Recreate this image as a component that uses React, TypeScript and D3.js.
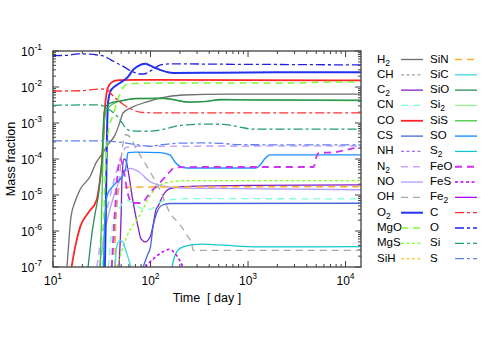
import * as d3 from 'd3';

// [time (day), mass fraction]; species that never
// reach 1e-7 inside the plotted range are left empty
const H2 = [[13.9,1e-7],[14.6,6e-7],[15.3,2.5e-6],[17,7e-6],[18.9,1.4e-5],[23.9,3.2e-5],[27.6,7.8e-5],[32.6,1.5e-4],[36.6,2.5e-4],[43.2,4.6e-4],[48.6,1.07e-3],[52.2,1.9e-3],[66,2.8e-3],[90,3.8e-3],[125,4.9e-3],[215,6e-3],[600,6.3e-3],[14400,6.3e-3]];
const CH: number[][] = [];
const C2 = [[47.5,1e-7],[50,3e-6],[51,3e-5],[53.5,1e-4],[56,9e-5],[58.7,5e-5],[66,6.9e-6],[74.5,1.3e-6],[80,6e-7],[88,5e-7],[100,7.3e-7],[106,1.4e-6],[114,4e-6],[120,5e-6],[135,1e-5],[158,1.5e-5],[215,1.7e-5],[1000,1.85e-5],[14400,1.9e-5]];
const CN = [[37,1e-7],[39,5e-7],[41,1.7e-6],[44,3e-6],[48.6,4.6e-6],[56,7.3e-6],[66,6e-6],[78,4.4e-6],[100,4e-6],[125,6.3e-6],[158,7.3e-6],[250,7.9e-6],[14400,7.8e-6]];
const CO = [[15.5,1e-7],[17,4e-7],[19,1.3e-6],[23,3.2e-6],[28,7.3e-6],[30.3,2.6e-5],[31.8,9.3e-5],[33,5e-4],[34,2.5e-3],[35.5,7e-3],[38,0.0118],[42,0.0145],[48,0.0156],[100,0.0157],[1000,0.0155],[14400,0.0152]];
const CS = [[84,1e-7],[92,2e-7],[100,3.7e-7],[106,1.3e-6],[116,3.2e-6],[131,5.2e-6],[158,5.8e-6],[14400,5.9e-6]];
const NH: number[][] = [];
const N2 = [[28.2,1e-7],[32.6,1.3e-6],[38.4,8.8e-6],[43.2,3.2e-5],[48.6,9.3e-5],[56,2.1e-4],[78,2.25e-4],[14400,2.3e-4]];
const NO = [[30,1e-7],[34,1e-6],[40,6e-6],[47,2.2e-5],[54,4.5e-5],[62,5.5e-5],[75,4.5e-5],[100,2.3e-5],[147,1.7e-5],[220,1.55e-5],[14400,1.4e-5]];
const OH = [[40,1e-7],[44,2e-6],[48,3e-5],[52,2.5e-4],[56,4.8e-4],[63,3.8e-4],[71,2e-4],[84,9.3e-5],[106,3.2e-5],[125,1.4e-5],[158,3.2e-6],[200,1.5e-6],[242,6.9e-7],[265,4.5e-7],[273,2.9e-7],[14400,2.9e-7]];
const O2 = [[34,1e-7],[34.6,1e-6],[35.2,3e-5],[35.8,5e-4],[36.6,3.5e-3],[39.4,8.3e-3],[48.6,0.0129],[58.7,0.019],[66,0.0296],[74.5,0.038],[88,0.044],[106,0.036],[125,0.03],[170,0.0245],[500,0.025],[2000,0.0256],[14400,0.0256]];
const MgO = [[32.5,1e-7],[33.5,5e-6],[35,1e-4],[37,6e-4],[41,1.6e-3],[46,4.3e-3],[52,9.4e-3],[59,0.0122],[80,0.0128],[3000,0.0129],[6000,0.0136],[14400,0.0138]];
const MgS = [[45,1e-7],[50,2.5e-7],[57,6.9e-7],[78,2.8e-6],[100,1e-5],[125,1.9e-5],[160,2.3e-5],[237,2.5e-5],[14400,2.5e-5]];
const SiH: number[][] = [];
const SiN = [[43,1e-7],[43.8,1e-6],[44.5,6e-6],[46,1.3e-5],[50,1.55e-5],[60,1.65e-5],[14400,1.7e-5]];
const SiC = [[43.5,1e-7],[44.5,3e-7],[46,4.5e-7],[49,5.5e-7],[52,5e-7],[55,3.3e-7],[59,1.8e-7],[63,1e-7]];
const SiO = [[22.9,1e-7],[25,8e-7],[27,3e-6],[29,8.8e-6],[30.5,3e-5],[31.8,9.3e-5],[32.6,6e-4],[33.5,2e-3],[35,3e-3],[40,3.7e-3],[49,4.1e-3],[70,4.8e-3],[135,4.9e-3],[250,3.8e-3],[380,4e-3],[520,4.5e-3],[1000,4.4e-3],[14400,4.3e-3]];
const Si2: number[][] = [];
const SiS = [[30.5,1e-7],[31.5,3e-6],[32.5,1e-4],[33.5,1e-3],[35,2.2e-3],[38,2.9e-3],[45,3.8e-3],[70,4.7e-3],[135,4.8e-3],[250,3.8e-3],[380,4e-3],[520,4.4e-3],[14400,4.2e-3]];
const SO = [[33,1e-7],[34,2e-6],[36,1e-5],[43,2e-5],[52,3.5e-5],[56,6e-5],[58.7,1.5e-4],[70,1.55e-4],[125,1.5e-4],[158,1.3e-4],[180,8e-5],[201,6.2e-5],[237,5.6e-5],[1200,5.6e-5],[1330,6.8e-5],[1500,1.05e-4],[1680,1.3e-4],[14400,1.3e-4]];
const S2 = [[166,1e-7],[175,1.8e-7],[187,2.7e-7],[215,3.6e-7],[320,4.3e-7],[500,4.1e-7],[1300,3.6e-7],[14400,3.7e-7]];
const FeO = [[40,1e-7],[43,3e-6],[46,4e-5],[49,1e-4],[53,5e-5],[58,1.2e-5],[65,6e-6],[80,6e-6],[100,1.2e-5],[125,2.2e-5],[150,3.8e-5],[178,5.8e-5],[300,6e-5],[4700,6e-5],[5000,1.1e-4],[5300,1.45e-4],[7800,1.55e-4],[12500,2e-4],[14400,2.1e-4]];
const FeS = [[88,1e-7],[110,1.8e-7],[140,2.8e-7],[158,3.1e-7],[180,2.3e-7],[200,1.5e-7],[215,1e-7]];
const Fe2: number[][] = [];
const C = [[10,7.7e-3],[20,7.9e-3],[25,8.5e-3],[33,8.8e-3],[36,8.4e-3],[40,6.2e-3],[44,4.8e-3],[49,3.8e-3],[55,3e-3],[62,2.5e-3],[78,2e-3],[120,1.9e-3],[14400,1.9e-3]];
const O = [[10,0.074],[14,0.076],[18,0.083],[24,0.082],[29,0.077],[33,0.072],[37,0.062],[41,0.053],[46,0.045],[52,0.038],[60,0.03],[67,0.026],[76,0.023],[85,0.023],[100,0.028],[115,0.036],[130,0.042],[160,0.044],[500,0.043],[3000,0.042],[14400,0.041]];
const Si = [[10,3.1e-3],[30,3.2e-3],[33,2.9e-3],[38,2.3e-3],[44,1.7e-3],[50,1.1e-3],[55,7.5e-4],[62,6.1e-4],[90,5.9e-4],[125,6.4e-4],[200,8.5e-4],[350,9.3e-4],[550,9.2e-4],[850,7.6e-4],[1100,6.8e-4],[14400,6.8e-4]];
const S = [[10,3.2e-4],[30,3.2e-4],[40,3.1e-4],[55,2.8e-4],[80,2.4e-4],[100,2.25e-4],[130,2.5e-4],[200,2.75e-4],[350,2.8e-4],[550,2.7e-4],[800,2.5e-4],[14400,2.45e-4]];

const DASH = '7,5';
const DOT = '3,2.5';
const DASHDOT = '9,3,3,3';

const species = [
  { name: 'H2', data: H2, color: '#6e6e6e', dash: '', w: 1.3 },
  { name: 'CH', data: CH, color: '#a0a0a0', dash: DOT, w: 1.3 },
  { name: 'C2', data: C2, color: '#8020c8', dash: '', w: 1.3 },
  { name: 'CN', data: CN, color: '#7fffd4', dash: DASH, w: 1.3 },
  { name: 'CO', data: CO, color: '#ff2424', dash: '', w: 1.8 },
  { name: 'CS', data: CS, color: '#4466dd', dash: '', w: 1.3 },
  { name: 'NH', data: NH, color: '#a070ff', dash: DOT, w: 1.3 },
  { name: 'N2', data: N2, color: '#c8a8ff', dash: DASH, w: 1.6 },
  { name: 'NO', data: NO, color: '#b49cff', dash: '', w: 1.3 },
  { name: 'OH', data: OH, color: '#a8a8a8', dash: DASH, w: 1.3 },
  { name: 'O2', data: O2, color: '#2233ee', dash: '', w: 2 },
  { name: 'MgO', data: MgO, color: '#7cfc30', dash: DASH, w: 1.5 },
  { name: 'MgS', data: MgS, color: '#80ff20', dash: DOT, w: 1.3 },
  { name: 'SiH', data: SiH, color: '#ffc850', dash: DOT, w: 1.5 },
  { name: 'SiN', data: SiN, color: '#ffb020', dash: DASH, w: 1.5 },
  { name: 'SiC', data: SiC, color: '#40d8e0', dash: '', w: 1.3 },
  { name: 'SiS', data: SiS, color: '#3cc83c', dash: '', w: 1.3 },
  { name: 'SiO', data: SiO, color: '#2e8b57', dash: '', w: 1.3 },
  { name: 'Si2', data: Si2, color: '#90ee90', dash: '', w: 1.3 },
  { name: 'SO', data: SO, color: '#1e8fff', dash: '', w: 1.4 },
  { name: 'S2', data: S2, color: '#10c8d4', dash: '', w: 1.3 },
  { name: 'FeO', data: FeO, color: '#d030f0', dash: DASH, w: 1.8 },
  { name: 'FeS', data: FeS, color: '#c000ff', dash: DOT, w: 1.5 },
  { name: 'Fe2', data: Fe2, color: '#b000ff', dash: '', w: 1.3 },
  { name: 'C', data: C, color: '#ff3030', dash: DASHDOT, w: 1.3 },
  { name: 'O', data: O, color: '#2020e8', dash: DASHDOT, w: 1.3 },
  { name: 'Si', data: Si, color: '#20a070', dash: DASHDOT, w: 1.3 },
  { name: 'S', data: S, color: '#6080f0', dash: DASHDOT, w: 1.3 },
];
// legend order (gnuplot key): SiS sits after Si2
const legendOrder = ['H2','CH','C2','CN','CO','CS','NH','N2','NO','OH','O2','MgO','MgS','SiH',
  'SiN','SiC','SiO','Si2','SiS','SO','S2','FeO','FeS','Fe2','C','O','Si','S'];

const FONT = 'Liberation Sans, Arial, Helvetica, sans-serif';
const box = { left: 53, right: 361, top: 51, bottom: 267 };

function Chem({ name }: { name: string }) {
  // digits become subscripts
  const parts = name.split(/(\d+)/).filter((p) => p);
  return (
    <>
      {parts.map((p, i) =>
        /\d/.test(p) ? (
          <tspan key={i} dy={3} fontSize={8.5}>{p}</tspan>
        ) : (
          <tspan key={i} dy={i > 0 ? -3 : 0}>{p}</tspan>
        )
      )}
    </>
  );
}

export default function App() {
  const x = d3.scaleLog().domain([10, 14400]).range([box.left, box.right]);
  const y = d3.scaleLog().domain([1e-7, 1e-1]).range([box.bottom, box.top]);
  const line = d3
    .line<number[]>()
    .x((d) => x(d[0]))
    .y((d) => y(d[1]))
    .curve(d3.curveMonotoneX);

  const isMajor = (v: number) => Math.abs(Math.log10(v) - Math.round(Math.log10(v))) < 1e-6;
  const xt = x.ticks();
  const yt = y.ticks();
  const frame = '#404040';

  const byName = Object.fromEntries(species.map((s) => [s.name, s]));

  return (
    <svg width={491} height={343} style={{ position: 'absolute', left: 0, top: 0 }} fontFamily={FONT}>
      <rect width={491} height={343} fill="#fff" />
      <defs>
        <clipPath id="plot">
          <rect x={box.left} y={box.top} width={box.right - box.left} height={box.bottom - box.top} />
        </clipPath>
      </defs>

      {/* ticks on all four sides, pointing in */}
      <g stroke={frame} strokeWidth={1}>
        {xt.map((t, i) => {
          const len = isMajor(t) ? 6 : 3;
          return (
            <g key={'x' + i}>
              <line x1={x(t)} x2={x(t)} y1={box.bottom} y2={box.bottom - len} />
              <line x1={x(t)} x2={x(t)} y1={box.top} y2={box.top + len} />
            </g>
          );
        })}
        {yt.map((t, i) => {
          const len = isMajor(t) ? 6 : 3;
          return (
            <g key={'y' + i}>
              <line x1={box.left} x2={box.left + len} y1={y(t)} y2={y(t)} />
              <line x1={box.right} x2={box.right - len} y1={y(t)} y2={y(t)} />
            </g>
          );
        })}
      </g>

      <g clipPath="url(#plot)" fill="none">
        {species.map((s) =>
          s.data.length ? (
            <path
              key={s.name}
              d={line(s.data) || ''}
              stroke={s.color}
              strokeWidth={s.w}
              strokeDasharray={s.dash || undefined}
            />
          ) : null
        )}
      </g>

      <rect
        x={box.left}
        y={box.top}
        width={box.right - box.left}
        height={box.bottom - box.top}
        fill="none"
        stroke={frame}
        strokeWidth={1.3}
      />

      {/* tick labels */}
      <g fontSize={12} fill="#000">
        {xt.filter(isMajor).map((t) => (
          <text key={'xl' + t} x={x(t)} y={285} textAnchor="middle">
            10<tspan dy={-6} fontSize={8.5}>{Math.round(Math.log10(t))}</tspan>
          </text>
        ))}
        {yt.filter(isMajor).map((t) => (
          <text key={'yl' + t} x={42} y={y(t) + 5} textAnchor="end">
            10<tspan dy={-6} fontSize={8.5}>{Math.round(Math.log10(t))}</tspan>
          </text>
        ))}
      </g>

      <text x={207} y={302} textAnchor="middle" fontSize={12.5} style={{ whiteSpace: 'pre' }}>
        {'Time  [ day ]'}
      </text>
      <text
        transform={`translate(15,${(box.top + box.bottom) / 2}) rotate(-90)`}
        textAnchor="middle"
        fontSize={12.5}
      >
        Mass fraction
      </text>

      {/* key: two columns of 14 */}
      <g fontSize={11.5}>
        {legendOrder.map((n, i) => {
          const s = byName[n];
          const col = Math.floor(i / 14);
          const row = i % 14;
          const cy = 58.5 + row * 15.32;
          const tx = col === 0 ? 377 : 430;
          const lx = col === 0 ? 401 : 455;
          return (
            <g key={n}>
              <text x={tx} y={cy + 4}>
                <Chem name={n} />
              </text>
              <line
                x1={lx}
                x2={lx + 22}
                y1={cy + 1}
                y2={cy + 1}
                stroke={s.color}
                strokeWidth={s.w}
                strokeDasharray={s.dash || undefined}
              />
            </g>
          );
        })}
      </g>
    </svg>
  );
}
